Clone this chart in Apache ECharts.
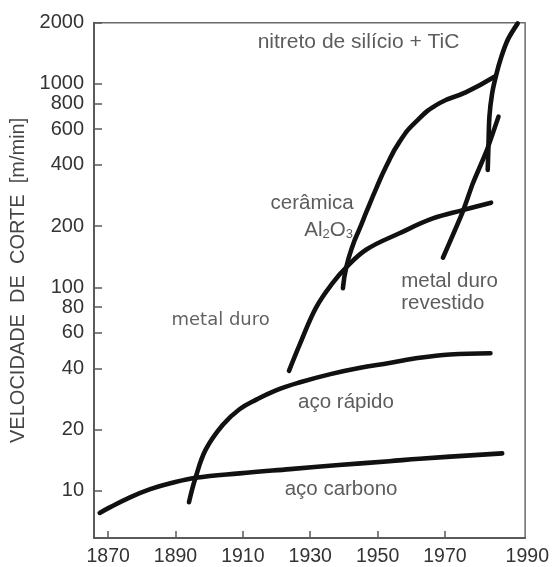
<!DOCTYPE html>
<html>
<head>
<meta charset="utf-8">
<title>Velocidade de corte</title>
<script src="https://cdn.jsdelivr.net/npm/echarts@6/dist/echarts.min.js"></script>
<style>
  html, body { margin: 0; padding: 0; background: #ffffff; }
  #chart { width: 552px; height: 567px; }
</style>
</head>
<body>
<div id="chart"></div>
<script>
// Axis ticks and labels
const speedTicks = [10, 20, 40, 60, 80, 100, 200, 400, 600, 800, 1000, 2000];
const yearTicks = [1870, 1890, 1910, 1930, 1950, 1970];
const yearLabels = [1870, 1890, 1910, 1930, 1950, 1970, 1990];

// Cutting speed (m/min) over the years, one pair of arrays per tool material
const acoCarbonoYears  = [1867.5, 1870.5, 1876.5, 1882.5, 1888.5, 1896, 1909, 1924, 1938.5, 1953.5, 1962.5, 1987];
const acoCarbonoSpeeds = [7.8, 8.3, 9.3, 10.2, 10.9, 11.6, 12.2, 12.8, 13.4, 14.0, 14.4, 15.3];

const acoRapidoYears  = [1894, 1896, 1899, 1904, 1909, 1914, 1920, 1927, 1936, 1944.5, 1953.5, 1962.5, 1971.5, 1983.5];
const acoRapidoSpeeds = [8.8, 11.7, 16, 21.1, 25.2, 28.1, 31.3, 34.2, 37.5, 40.2, 42.5, 45.1, 46.8, 47.5];

const metalDuroYears  = [1923.7, 1926.9, 1931.8, 1936.8, 1940.7, 1946.7, 1956.5, 1966.4, 1975.3, 1983.7];
const metalDuroSpeeds = [38.9, 52.5, 80, 106, 125.6, 153.6, 184.6, 218.3, 239.9, 260.9];

const ceramicaYears  = [1939.7, 1940.7, 1942.7, 1944.7, 1946.7, 1949.6, 1952.6, 1956.5, 1961.5, 1968.4, 1976.3, 1984.7];
const ceramicaSpeeds = [99.1, 125.6, 162.3, 195, 235.5, 306.9, 395, 519.4, 655, 805, 911, 1084];

const revestidoYears  = [1969.4, 1975.3, 1978.3, 1982.3, 1985.9];
const revestidoSpeeds = [140, 236, 325, 466, 691];

const nitretoYears  = [1982.7, 1982.9, 1983.2, 1984.0, 1985.2, 1986.7, 1988.7, 1991.6];
const nitretoSpeeds = [378, 487, 691, 897, 1105, 1353, 1656, 1985];

// Curve captions, anchored at [year, speed]
const noteTexts = [
  'nitreto de silício + TiC',
  'cerâmica',
  '{n|Al}{s|2}{n|O}{s|3}',
  'metal duro\nrevestido',
  'metal duro',
  'aço rápido',
  'aço carbono'
];
const noteYears  = [1914.4, 1942.9, 1942.7, 1957.0, 1888.8, 1926.4, 1922.4];
const noteSpeeds = [1603, 258.8, 191.4, 95.0, 68.7, 27.4, 10.18];

const FONT = '"Liberation Sans", Arial, Helvetica, sans-serif';
const TEXT_COLOR = '#333333';

function pairs(xs, ys) {
  return xs.map((x, i) => [x, ys[i]]);
}

function curve(name, xs, ys, smooth) {
  return {
    name: name,
    type: 'line',
    data: pairs(xs, ys),
    showSymbol: false,
    symbol: 'none',
    smooth: smooth,
    silent: true,
    lineStyle: { color: '#111111', width: 4.6, cap: 'round', join: 'round' },
    z: 3
  };
}

// Caption placement: which side of the anchor the text sits on
const noteSide = ['right', 'left', 'left', 'right', 'right', 'right', 'right'];

const noteData = noteTexts.map((t, i) => {
  const item = {
    value: [noteYears[i], noteSpeeds[i]],
    label: {
      show: true,
      formatter: t,
      position: noteSide[i],
      distance: 0,
      fontFamily: FONT,
      fontSize: 20.5,
      lineHeight: 22,
      color: TEXT_COLOR
    }
  };
  if (i === 0) {
    item.label.fontSize = 21;
  }
  if (i === 2) {
    item.label.rich = {
      n: { fontFamily: FONT, fontSize: 20.5, lineHeight: 22, color: TEXT_COLOR, verticalAlign: 'middle' },
      s: { fontFamily: FONT, fontSize: 13, lineHeight: 13, color: TEXT_COLOR, verticalAlign: 'bottom' }
    };
  }
  if (i === 4) {
    item.label.fontFamily = '"DejaVu Sans", sans-serif';
    item.label.fontSize = 18;
    item.label.color = '#3a3a3a';
  }
  return item;
});

const chart = echarts.init(document.getElementById('chart'), null, { renderer: 'canvas' });

chart.setOption({
  animation: false,
  backgroundColor: '#ffffff',
  grid: {
    left: 94,
    right: 26.5,
    top: 22.7,
    bottom: 24.7,
    show: true,
    borderColor: '#6a6a6a',
    borderWidth: 1.5,
    containLabel: false
  },
  xAxis: {
    type: 'value',
    min: 1865.8,
    max: 1993.8,
    splitLine: { show: false },
    axisLine: { show: true, lineStyle: { color: '#5a5a5a', width: 2 } },
    axisTick: {
      show: true,
      inside: true,
      length: 7,
      customValues: yearTicks,
      lineStyle: { color: '#5a5a5a', width: 1.5 }
    },
    axisLabel: {
      show: true,
      customValues: yearLabels,
      margin: 9,
      fontFamily: FONT,
      fontSize: 19.5,
      color: TEXT_COLOR,
      formatter: function (v) {
        return v === 1990 ? '{shift|1990}' : String(v);
      },
      rich: {
        shift: { fontFamily: FONT, fontSize: 19.5, color: TEXT_COLOR, padding: [0, 0, 0, 30] }
      }
    }
  },
  yAxis: {
    type: 'log',
    logBase: 10,
    min: 5.87,
    max: 2000,
    splitLine: { show: false },
    minorTick: { show: false },
    axisLine: { show: true, lineStyle: { color: '#5a5a5a', width: 2 } },
    axisTick: {
      show: true,
      inside: true,
      length: 8,
      customValues: speedTicks,
      lineStyle: { color: '#5a5a5a', width: 1.5 }
    },
    axisLabel: {
      show: true,
      customValues: speedTicks,
      margin: 10,
      fontFamily: FONT,
      fontSize: 20,
      color: TEXT_COLOR,
      formatter: function (v) { return String(Math.round(v)); }
    },
    name: 'VELOCIDADE  DE  CORTE  [m/min]',
    nameLocation: 'middle',
    nameRotate: 90,
    nameGap: 50,
    nameTextStyle: { fontFamily: FONT, fontSize: 20, color: '#444444' }
  },
  series: [
    curve('aço carbono', acoCarbonoYears, acoCarbonoSpeeds, 0.4),
    curve('aço rápido', acoRapidoYears, acoRapidoSpeeds, 0.4),
    curve('metal duro', metalDuroYears, metalDuroSpeeds, 0.4),
    curve('cerâmica Al2O3', ceramicaYears, ceramicaSpeeds, 0.5),
    curve('metal duro revestido', revestidoYears, revestidoSpeeds, 0.2),
    curve('nitreto de silício + TiC', nitretoYears, nitretoSpeeds, 0.3),
    {
      name: 'legendas',
      type: 'scatter',
      symbolSize: 0,
      silent: true,
      data: noteData,
      z: 4
    }
  ]
});
</script>
</body>
</html>
